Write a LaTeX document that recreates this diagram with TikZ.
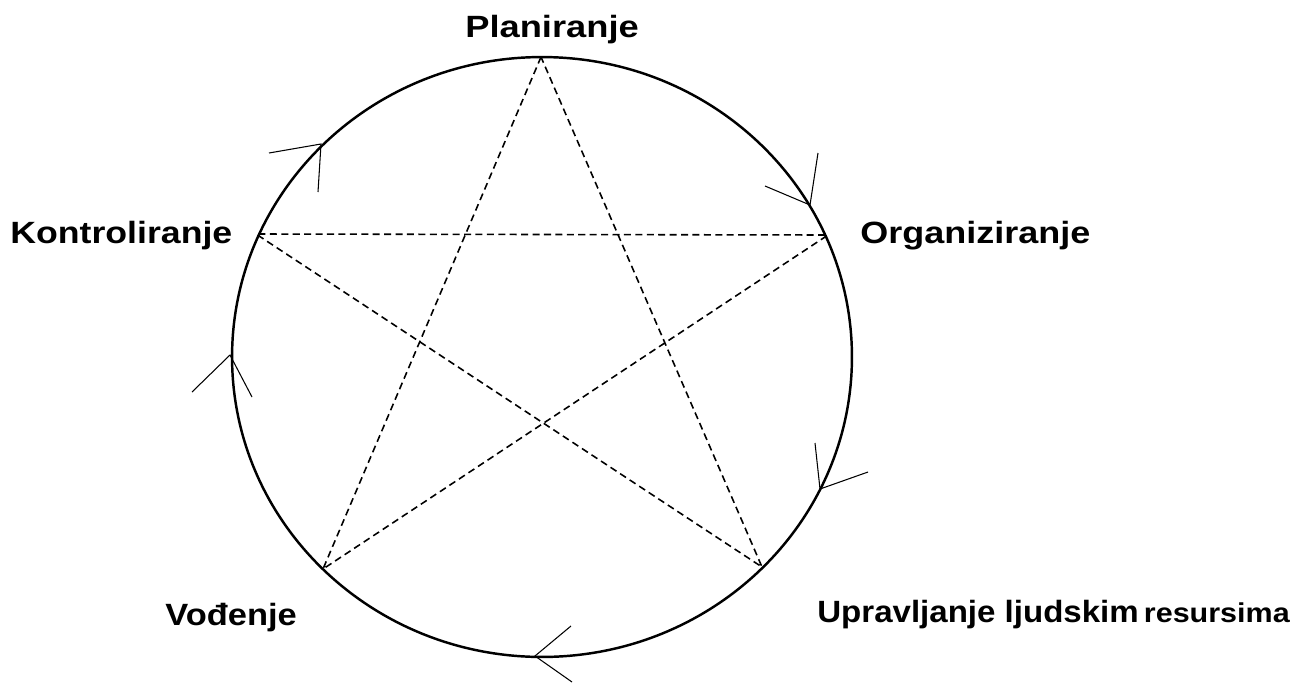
\documentclass[tikz,border=0pt]{standalone}
\usepackage{fontspec}
\setmainfont{Liberation Sans}
\usepackage{tikz}
\usetikzlibrary{calc}

\tikzset{
  zvijezda/.style={black, line width=0.9pt, dash pattern=on 4pt off 2.5pt},
  krug/.style={black, line width=1.4pt},
  strelica/.style={black, line width=0.6pt},
  oznaka/.style={inner sep=0pt, anchor=base west, font=\fontsize{17.5}{20}\selectfont\bfseries}
}
\newcommand{\siroko}[2]{\scalebox{#1}[1]{#2}}

\begin{document}
\begin{tikzpicture}[x=0.02cm, y=-0.02cm]
                \useasboundingbox (0,0) rectangle (1294,683);
                \coordinate (S) at (542,357);
                \coordinate (P) at (541,57);
                \coordinate (O) at (828,235);
                \coordinate (U) at (762,567);
                \coordinate (V) at (323,569);
                \coordinate (K) at (256,234);
                % krug
                \draw[krug] (S) ellipse [x radius=6.2cm, y radius=6cm];
                % zvijezda
                \draw[zvijezda] (P) -- (V) -- (O) -- (K) -- (U) -- cycle;
                % strelice na krugu
                \coordinate (s1) at (321,144);
                \coordinate (s2) at (810,205);
                \coordinate (s3) at (820,489);
                \coordinate (s4) at (535,656);
                \coordinate (s5) at (230,355);
                \draw[strelica] (269,153) -- (s1) -- (318,192);
                \draw[strelica] (765,186) -- (s2) -- (818,153);
                \draw[strelica] (815,443) -- (s3) -- (868,472);
                \draw[strelica] (571,626) -- (s4) -- (572,682);
                \draw[strelica] (192,392) -- (s5) -- (252,397);
                % oznake
                \node[oznaka] (plan) at (465,37) {\siroko{1.18}{Planiranje}};
                \node[oznaka] (org) at (860,243) {\siroko{1.17}{Organiziranje}};
                \node[oznaka] (kontr) at (10,243) {\siroko{1.16}{Kontroliranje}};
                \node[oznaka] (vod) at (165,625) {\siroko{1.12}{Vođenje}};
                \node[oznaka] (uprav) at (817,622) {\siroko{1.075}{Upravljanje ljudskim}\,\siroko{1.12}{\fontsize{15.5}{18}\selectfont resursima}};
            \end{tikzpicture}
\end{document}
